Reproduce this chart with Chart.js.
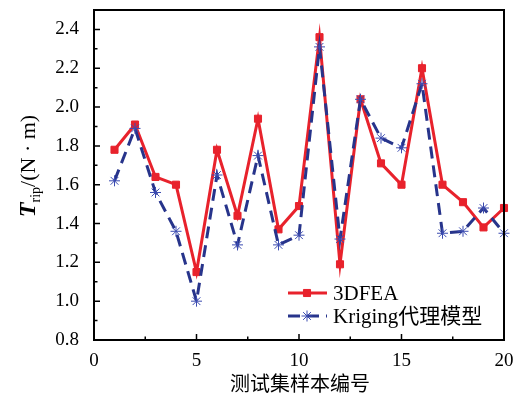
<!DOCTYPE html>
<html>
<head>
<meta charset="utf-8">
<script src="https://cdn.jsdelivr.net/npm/chart.js@4/dist/chart.umd.min.js"></script>
<style>
  html, body { margin: 0; padding: 0; background: #fff; }
  #wrap { width: 520px; height: 398px; }
</style>
</head>
<body>
<div id="wrap"><canvas id="c"></canvas></div>
<script>
const samples = [1, 2, 3, 4, 5, 6, 7, 8, 9, 10, 11, 12, 13, 14, 15, 16, 17, 18, 19, 20];
const fea = [1.78, 1.91, 1.64, 1.60, 1.15, 1.78, 1.44, 1.94, 1.37, 1.49, 2.36, 1.19, 2.04, 1.71, 1.60, 2.20, 1.60, 1.51, 1.38, 1.48];
const kriging = [1.62, 1.89, 1.56, 1.36, 1.00, 1.65, 1.29, 1.75, 1.29, 1.34, 2.31, 1.32, 2.04, 1.84, 1.79, 2.12, 1.35, 1.36, 1.48, 1.35];
const yTicks = [0.8, 1.0, 1.2, 1.4, 1.6, 1.8, 2.0, 2.2, 2.4];
const seriesNames = ['3DFEA', 'Kriging代理模型'];
const xTitle = '测试集样本编号';

const RED = '#e8222c';
const BLUE = '#27348b';
const serif = '"Liberation Serif", "Times New Roman", serif';
const cjk = '"Noto Sans CJK SC", sans-serif';

function pts(vals) {
    return samples.map((s, i) => ({ x: s, y: vals[i] }));
}

// frame, inward ticks, axis titles and legend
const decor = {
    id: 'decor',
    afterDraw(chart) {
        const ctx = chart.ctx;
        const a = chart.chartArea;
        const xs = chart.scales.x;
        const ys = chart.scales.y;
        ctx.save();
        ctx.strokeStyle = '#000';
        ctx.lineWidth = 2;
        ctx.strokeRect(a.left, a.top, a.right - a.left, a.bottom - a.top);

        ctx.lineWidth = 1.5;
        ctx.beginPath();
        for (let v = 0; v <= 20.001; v += 2.5) {
            const px = xs.getPixelForValue(v);
            const len = (Math.round(v * 2) % 10 === 0) ? 6 : 3.5;
            ctx.moveTo(px, a.bottom);
            ctx.lineTo(px, a.bottom - len);
        }
        for (let i = 8; i <= 25; i++) {
            const py = ys.getPixelForValue(i / 10);
            const len = (i % 2 === 0) ? 6 : 3.5;
            ctx.moveTo(a.left, py);
            ctx.lineTo(a.left + len, py);
        }
        ctx.stroke();

        // x title
        ctx.fillStyle = '#000';
        ctx.font = '20px ' + cjk;
        ctx.textAlign = 'center';
        ctx.textBaseline = 'middle';
        ctx.fillText(xTitle, (a.left + a.right) / 2 + 1, 383);

        // y title
        ctx.translate(27, 166);
        ctx.rotate(-Math.PI / 2);
        ctx.textAlign = 'left';
        ctx.textBaseline = 'alphabetic';
        const parts = [
            { t: 'T', f: 'italic bold 24px ' + serif, dy: 0 },
            { t: 'rip', f: '14px ' + serif, dy: 5 },
            { t: '/(N · m)', f: '22px ' + serif, dy: 0 }
        ];
        let w = 0;
        parts.forEach(p => { ctx.font = p.f; w += ctx.measureText(p.t).width; });
        let x = -w / 2;
        parts.forEach(p => {
            ctx.font = p.f;
            ctx.fillText(p.t, x, 8 + p.dy);
            x += ctx.measureText(p.t).width;
        });
        ctx.setTransform(1, 0, 0, 1, 0, 0);

        // legend
        const lx0 = 288, lx1 = 327, mx = 307;
        const rows = [
            { y: 293, ds: chart.data.datasets[0] },
            { y: 316, ds: chart.data.datasets[1] }
        ];
        rows.forEach((r, i) => {
            ctx.strokeStyle = r.ds.borderColor;
            ctx.lineWidth = r.ds.borderWidth;
            ctx.setLineDash(r.ds.borderDash || []);
            ctx.beginPath();
            ctx.moveTo(lx0, r.y);
            ctx.lineTo(lx1, r.y);
            ctx.stroke();
            ctx.setLineDash([]);
            ctx.fillStyle = r.ds.pointBackgroundColor;
            ctx.strokeStyle = r.ds.pointBorderColor;
            ctx.lineWidth = r.ds.pointBorderWidth;
            Chart.helpers.drawPoint(ctx, {
                pointStyle: r.ds.pointStyle,
                radius: r.ds.pointRadius,
                borderWidth: r.ds.pointBorderWidth,
                rotation: 0
            }, mx, r.y);
            ctx.fillStyle = '#000';
            ctx.font = '21px ' + serif + ', ' + cjk;
            ctx.textAlign = 'left';
            ctx.textBaseline = 'middle';
            ctx.fillText(seriesNames[i], 333, r.y + 1);
        });
        ctx.restore();
    }
};

Chart.register(decor);

const chart = new Chart(document.getElementById('c').getContext('2d'), {
    type: 'line',
    data: {
        datasets: [
            {
                label: seriesNames[0],
                data: pts(fea),
                borderColor: RED,
                backgroundColor: RED,
                borderWidth: 3,
                pointStyle: 'rect',
                pointRadius: 5,
                pointBorderWidth: 1,
                pointBackgroundColor: RED,
                pointBorderColor: RED,
                fill: false,
                clip: false,
                tension: 0,
                order: 2
            },
            {
                label: seriesNames[1],
                data: pts(kriging),
                borderColor: BLUE,
                backgroundColor: BLUE,
                borderWidth: 3,
                borderDash: [12, 7],
                pointStyle: 'star',
                pointRadius: 5.5,
                pointBorderWidth: 1,
                pointBackgroundColor: BLUE,
                pointBorderColor: '#3a4ab0',
                fill: false,
                clip: false,
                tension: 0,
                order: 1
            }
        ]
    },
    options: {
        animation: false,
        responsive: true,
        maintainAspectRatio: false,
        devicePixelRatio: 1,
        layout: { padding: { left: 0, right: 16, top: 10, bottom: 0 } },
        plugins: {
            legend: { display: false },
            tooltip: { enabled: false },
            title: { display: false }
        },
        scales: {
            x: {
                type: 'linear',
                min: 0,
                max: 20,
                grid: { display: false },
                border: { display: false },
                ticks: {
                    stepSize: 5,
                    color: '#000',
                    font: { family: serif, size: 19 },
                    padding: 2,
                    maxRotation: 0
                },
                afterFit(s) {
                    s.height = 58;
                    s.paddingLeft = 0;
                    s.paddingRight = 0;
                }
            },
            y: {
                min: 0.8,
                max: 2.5,
                grid: { display: false },
                border: { display: false },
                ticks: {
                    color: '#000',
                    font: { family: serif, size: 19 },
                    padding: 7,
                    callback: (v) => v.toFixed(1)
                },
                afterBuildTicks(s) {
                    s.ticks = yTicks.map(v => ({ value: v }));
                },
                afterFit(s) {
                    s.width = 94;
                    s.paddingTop = 0;
                    s.paddingBottom = 0;
                }
            }
        }
    }
});
</script>
</body>
</html>
